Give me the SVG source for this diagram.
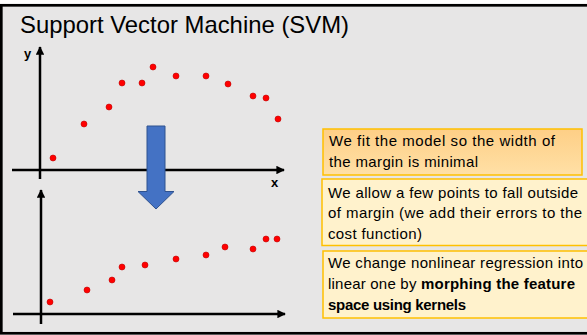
<svg xmlns="http://www.w3.org/2000/svg" width="587" height="335" viewBox="0 0 587 335">
<defs>
<style>
.ax{stroke:#000;stroke-width:2.5;fill:none}
.dot{fill:#ff0000;stroke:#c00000;stroke-width:0.6}
.lbl{font-family:"Liberation Sans",Arial,sans-serif;font-weight:bold;font-size:13px;fill:#000}
.t{font-family:"Liberation Sans",Arial,sans-serif;font-size:15px;fill:#000}
.b{font-weight:bold}
.box{stroke:#ffc000;stroke-width:1.5}
</style>
<marker id="ah" viewBox="0 0 10 10" refX="9" refY="5" markerWidth="3.4" markerHeight="3.4" orient="auto" markerUnits="strokeWidth">
<path d="M0,0 L10,5 L0,10 z" fill="#000"/>
</marker>
<linearGradient id="g1" x1="0" y1="0" x2="0" y2="1">
<stop offset="0" stop-color="#fecf86"/>
<stop offset="1" stop-color="#ffe0a6"/>
</linearGradient>
</defs>
<rect x="0" y="0" width="587" height="335" fill="#ffffff"/>
<rect x="1.3" y="5.3" width="600" height="328" fill="#e7e6e6" stroke="#000" stroke-width="2.7"/>
<text id="title" x="20" y="33" font-family="'Liberation Sans',Arial,sans-serif" font-size="24" fill="#000" textLength="329" lengthAdjust="spacingAndGlyphs">Support Vector Machine (SVM)</text>

<g id="connectors">
<line class="ax" x1="40" y1="179" x2="40" y2="47" marker-end="url(#ah)"/>
<line class="ax" x1="12" y1="170" x2="284" y2="170" marker-end="url(#ah)"/>
<line class="ax" x1="41" y1="324" x2="41" y2="190" marker-end="url(#ah)"/>
<line class="ax" x1="13" y1="314" x2="285" y2="314" marker-end="url(#ah)"/>
</g>

<g id="top-plot">
<text class="lbl" x="24" y="58">y</text>
<text class="lbl" x="271" y="187">x</text>
<circle class="dot" cx="53" cy="158" r="3"/>
<circle class="dot" cx="84" cy="124" r="3"/>
<circle class="dot" cx="109" cy="107" r="3"/>
<circle class="dot" cx="122" cy="83" r="3"/>
<circle class="dot" cx="142" cy="83" r="3"/>
<circle class="dot" cx="153" cy="67" r="3"/>
<circle class="dot" cx="176" cy="76" r="3"/>
<circle class="dot" cx="206" cy="76" r="3"/>
<circle class="dot" cx="228" cy="84" r="3"/>
<circle class="dot" cx="253" cy="96" r="3"/>
<circle class="dot" cx="266" cy="98" r="3"/>
<circle class="dot" cx="278" cy="119" r="3"/>
</g>

<g id="bottom-plot">
<circle class="dot" cx="50" cy="302" r="3"/>
<circle class="dot" cx="87" cy="290" r="3"/>
<circle class="dot" cx="112" cy="280" r="3"/>
<circle class="dot" cx="122" cy="267" r="3"/>
<circle class="dot" cx="145" cy="265" r="3"/>
<circle class="dot" cx="176" cy="259" r="3"/>
<circle class="dot" cx="206" cy="255" r="3"/>
<circle class="dot" cx="225" cy="247" r="3"/>
<circle class="dot" cx="253" cy="249" r="3"/>
<circle class="dot" cx="266" cy="239" r="3"/>
<circle class="dot" cx="277" cy="239" r="3"/>
</g>

<g id="down-arrow">
<path d="M147,126 L165,126 L165,191.5 L174,191.5 L156,209 L138,191.5 L147,191.5 Z" fill="#4472c4" stroke="#2f528f" stroke-width="1"/>
</g>

<g id="box1">
<rect class="box" x="323" y="129" width="259" height="46" fill="url(#g1)"/>
<text class="t" x="329" y="146" textLength="226">We fit the model so the width of</text>
<text class="t" x="329" y="166.5" textLength="149">the margin is minimal</text>
</g>

<g id="box2">
<rect class="box" x="322" y="179" width="280" height="66.5" fill="#fff2cc"/>
<text class="t" x="328" y="197.5" textLength="250">We allow a few points to fall outside</text>
<text class="t" x="328" y="218" textLength="254">of margin (we add their errors to the</text>
<text class="t" x="328" y="238.5" textLength="94">cost function)</text>
</g>

<g id="box3">
<rect class="box" x="323" y="251" width="280" height="67" fill="#fff2cc"/>
<text class="t" x="328" y="268" textLength="255">We change nonlinear regression into</text>
<text class="t" x="328" y="289" textLength="247">linear one by <tspan class="b">morphing the feature</tspan></text>
<text class="t b" x="328" y="310" textLength="138">space using kernels</text>
</g>
</svg>
